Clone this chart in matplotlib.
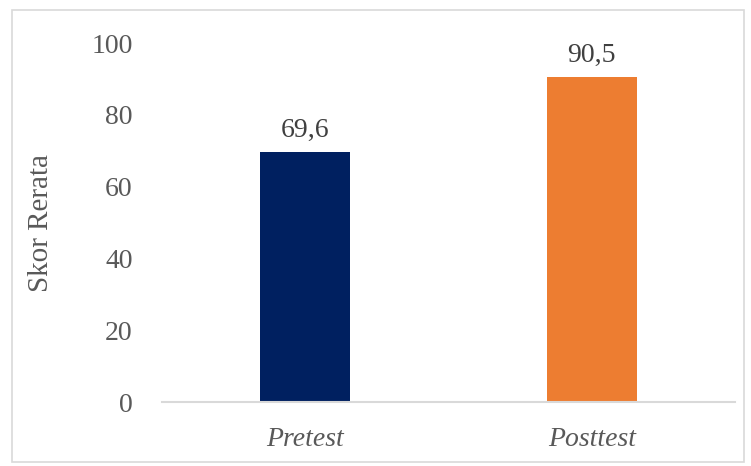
import matplotlib.pyplot as plt
from matplotlib.patches import Rectangle

categories = ['Pretest', 'Posttest']
scores = [69.6, 90.5]
bar_colors = ['#002060', '#ED7D31']

plt.rcParams['font.family'] = ['Liberation Serif', 'DejaVu Serif']

fig = plt.figure(figsize=(7.51, 4.66), dpi=100)
ax = fig.add_axes([0.2157, 0.1373, 0.763, 0.7704])

x = range(len(categories))
rects = ax.bar(x, scores, width=0.314, color=bar_colors)

for rect, val in zip(rects, scores):
    ax.text(rect.get_x() + rect.get_width() / 2, val + 2.5,
            ('%.1f' % val).replace('.', ','),
            ha='center', va='bottom', fontsize=20, color='#404040')

ax.set_xlim(-0.5, 1.5)
ax.set_ylim(0, 100)
ax.set_yticks(range(0, 101, 20))
ax.set_xticks(list(x))
ax.set_xticklabels(categories, fontstyle='italic')
ax.tick_params(axis='both', length=0, labelsize=20, labelcolor='#595959')
ax.tick_params(axis='y', pad=21)
ax.tick_params(axis='x', pad=18)
ax.set_ylabel('Skor Rerata', fontsize=21, color='#595959', labelpad=27)

for side in ['top', 'right', 'left']:
    ax.spines[side].set_visible(False)
ax.spines['bottom'].set_color('#D9D9D9')
ax.spines['bottom'].set_linewidth(1.5)

# light frame round the whole chart
fig.patches.append(Rectangle((12 / 751, 4 / 466), 732 / 751, 452 / 466,
                             transform=fig.transFigure, fill=False,
                             edgecolor='#D9D9D9', linewidth=1.2))

plt.savefig('out.png', dpi=100)
